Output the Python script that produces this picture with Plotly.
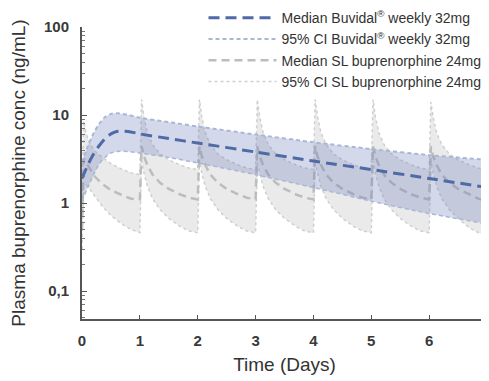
import plotly.graph_objects as go

# ---- SL buprenorphine 24 mg (daily dosing) ----
sl_time = [0, 0.03, 0.07, 0.13, 0.22, 0.35, 0.5, 0.7, 0.85,
           1, 1.03, 1.07, 1.13, 1.22, 1.35, 1.5, 1.7, 1.85,
           2, 2.03, 2.07, 2.13, 2.22, 2.35, 2.5, 2.7, 2.85,
           3, 3.03, 3.07, 3.13, 3.22, 3.35, 3.5, 3.7, 3.85,
           4, 4.03, 4.07, 4.13, 4.22, 4.35, 4.5, 4.7, 4.85,
           5, 5.03, 5.07, 5.13, 5.22, 5.35, 5.5, 5.7, 5.85,
           6, 6.03, 6.07, 6.13, 6.22, 6.35, 6.5, 6.7, 6.85,
           7]
sl_upper = [1.0, 8.5, 6.2, 4.8, 3.9, 3.3, 2.8, 2.4, 2.2,
            2.1, 15, 9.5, 6.2, 4.6, 3.6, 3.1, 2.7, 2.5,
            2.4, 15, 9.6, 6.3, 4.6, 3.6, 3.1, 2.7, 2.5,
            2.4, 15, 9.6, 6.3, 4.6, 3.6, 3.1, 2.7, 2.5,
            2.4, 15, 9.6, 6.3, 4.6, 3.6, 3.1, 2.7, 2.5,
            2.4, 15, 9.6, 6.3, 4.6, 3.6, 3.1, 2.7, 2.5,
            2.4, 14, 9.4, 6.2, 4.6, 3.6, 3.1, 2.7, 2.5,
            2.3]
sl_median = [0.5, 3.2, 2.9, 2.5, 2.0, 1.65, 1.4, 1.22, 1.12,
             1.1, 4.4, 3.4, 2.7, 2.1, 1.7, 1.45, 1.25, 1.15,
             1.1, 4.4, 3.4, 2.7, 2.1, 1.7, 1.45, 1.25, 1.15,
             1.1, 4.4, 3.4, 2.7, 2.1, 1.7, 1.45, 1.25, 1.15,
             1.1, 4.4, 3.4, 2.7, 2.1, 1.7, 1.45, 1.25, 1.15,
             1.1, 4.4, 3.4, 2.7, 2.1, 1.7, 1.45, 1.25, 1.15,
             1.1, 4.4, 3.4, 2.7, 2.1, 1.7, 1.45, 1.25, 1.12,
             1.05]
sl_lower = [0.3, 1.6, 1.6, 1.45, 1.2, 0.92, 0.72, 0.57, 0.5,
            0.46, 3.0, 2.2, 1.55, 1.12, 0.84, 0.67, 0.54, 0.48,
            0.46, 3.0, 2.2, 1.55, 1.12, 0.84, 0.67, 0.54, 0.48,
            0.46, 3.0, 2.2, 1.55, 1.12, 0.84, 0.67, 0.54, 0.48,
            0.46, 3.0, 2.2, 1.55, 1.12, 0.84, 0.67, 0.54, 0.48,
            0.46, 3.0, 2.2, 1.55, 1.12, 0.84, 0.67, 0.54, 0.48,
            0.46, 3.0, 2.2, 1.55, 1.12, 0.84, 0.67, 0.52, 0.46,
            0.42]

# ---- Buvidal weekly 32 mg ----
bv_time = [0, 0.1, 0.2, 0.3, 0.4, 0.5, 0.6, 0.8, 1, 1.5, 2, 3, 4, 5, 6, 7]
bv_median = [1.9, 2.7, 3.6, 4.5, 5.4, 6.1, 6.5, 6.5, 6.1, 5.4, 4.8, 3.8, 3.0, 2.4, 1.9, 1.5]
bv_upper = [2.9, 4.4, 6.2, 8.0, 9.5, 10.3, 10.5, 10.0, 9.3, 8.3, 7.4, 6.0, 4.9, 4.1, 3.5, 3.1]
bv_lower = [1.05, 1.5, 2.1, 2.8, 3.3, 3.7, 3.85, 3.85, 3.7, 3.3, 2.85, 2.1, 1.5, 1.05, 0.76, 0.58]

x_ticks = [0, 1, 2, 3, 4, 5, 6, 7]
y_ticks = [0.1, 1, 10, 100]
y_tick_labels = ["0,1", "1", "10", "100"]

names = ["Median Buvidal<sup>®</sup> weekly 32mg",
         "95% CI Buvidal<sup>®</sup> weekly 32mg",
         "Median SL buprenorphine 24mg",
         "95% CI SL buprenorphine 24mg"]

FONT = "Liberation Sans, Arial, sans-serif"

fig = go.Figure()

# SL band
fig.add_trace(go.Scatter(x=sl_time, y=sl_upper, mode="lines", name=names[3],
                         line=dict(color="#cfcfcf", width=1.5, dash="dot"),
                         legendgroup="d", legendrank=4))
fig.add_trace(go.Scatter(x=sl_time, y=sl_lower, mode="lines", showlegend=False,
                         line=dict(color="#cfcfcf", width=1.5, dash="dot"),
                         fill="tonexty", fillcolor="rgba(225,225,225,0.7)",
                         legendgroup="d"))
fig.add_trace(go.Scatter(x=sl_time, y=sl_median, mode="lines", name=names[2],
                         line=dict(color="#bdbdbd", width=2.5, dash="8px,5px"),
                         legendgroup="c", legendrank=3))
# Buvidal band
fig.add_trace(go.Scatter(x=bv_time, y=bv_upper, mode="lines", name=names[1],
                         line=dict(color="#a9b7d6", width=2, dash="4px,3px", shape="spline", smoothing=0.6),
                         legendgroup="b", legendrank=2))
fig.add_trace(go.Scatter(x=bv_time, y=bv_lower, mode="lines", showlegend=False,
                         line=dict(color="#a9b7d6", width=1.5, dash="4px,3px", shape="spline", smoothing=0.6),
                         fill="tonexty", fillcolor="rgba(110,130,185,0.3)",
                         legendgroup="b"))
fig.add_trace(go.Scatter(x=bv_time, y=bv_median, mode="lines", name=names[0],
                         line=dict(color="#4f6aa6", width=3, dash="11px,6px", shape="spline", smoothing=0.6),
                         legendgroup="a", legendrank=1))

# page body has an 8px default margin, so the figure is 8px smaller and shifted
fig.update_layout(
    width=481, height=373,
    margin=dict(l=74, r=2, t=19, b=62, autoexpand=False),
    paper_bgcolor="white", plot_bgcolor="white",
    font=dict(family=FONT, color="#333333"),
    legend=dict(x=0.3, y=1.085, xanchor="left", yanchor="top",
                bgcolor="rgba(0,0,0,0)", font=dict(size=14, color="#333333", family=FONT),
                itemwidth=68, tracegroupgap=0, traceorder="grouped"),
    xaxis=dict(range=[0, 7], tickvals=x_ticks, showline=True, linecolor="#555555", linewidth=2,
               ticks="inside", ticklen=4, tickcolor="#555555", showgrid=False, zeroline=False,
               ticklabeloverflow="allow", ticklabelstandoff=7,
               tickfont=dict(size=15, color="#3a3a3a", family=FONT, weight="bold"),
               title=dict(text="Time (Days)", font=dict(size=19, color="#333333", family=FONT), standoff=10)),
    yaxis=dict(type="log", range=[-1.318, 2], tickvals=y_ticks, ticktext=y_tick_labels,
               showline=True, linecolor="#555555", linewidth=2,
               ticks="inside", ticklen=5, tickcolor="#555555", showgrid=False, zeroline=False,
               ticklabelstandoff=8,
               minor=dict(ticks="inside", ticklen=3, tickcolor="#777777", dtick="D1", showgrid=False),
               tickfont=dict(size=15, color="#3a3a3a", family=FONT, weight="bold"),
               title=dict(text="Plasma buprenorphine conc (ng/mL)", font=dict(size=19, color="#333333", family=FONT),
                          standoff=14)),
)

fig.write_html("out.html")
